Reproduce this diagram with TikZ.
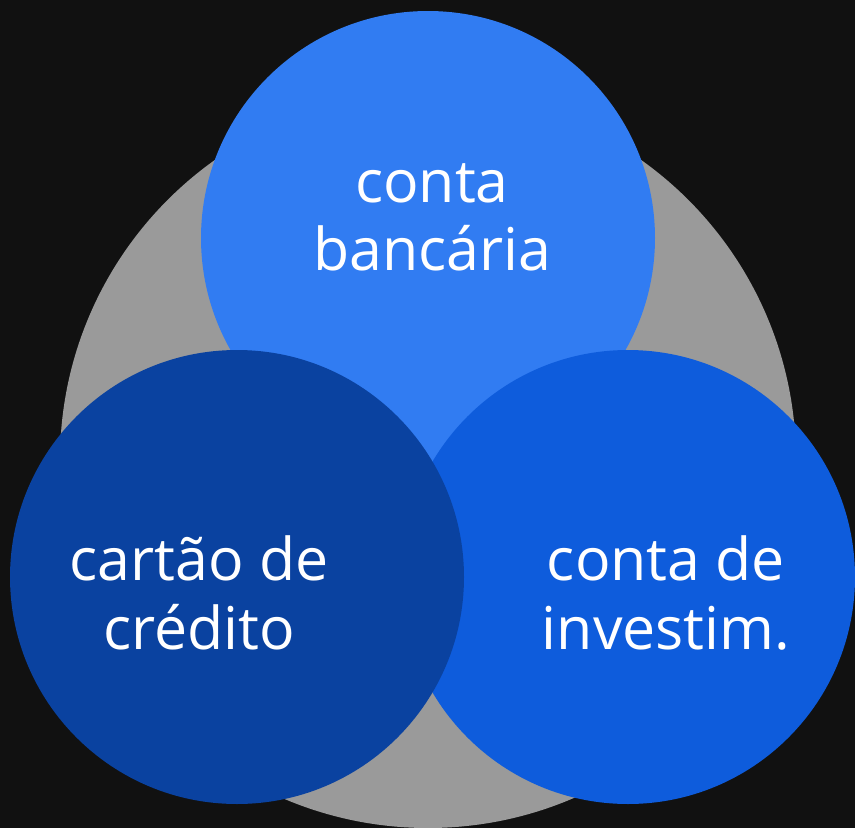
\documentclass[tikz,border=0pt]{standalone}
\usepackage{fontspec}
\setmainfont{Open Sans}
\definecolor{bgc}{RGB}{17,17,17}
\definecolor{grayc}{RGB}{154,154,154}
\definecolor{topc}{RGB}{49,124,242}
\definecolor{rightc}{RGB}{14,92,220}
\definecolor{leftc}{RGB}{10,66,160}
\tikzset{
  disc/.style={circle, minimum size=454pt, inner sep=0pt, draw=none},
  lbl/.style={text=white, anchor=base, inner sep=0pt, font=\fontsize{59}{70}\selectfont}
}
\begin{document}
\begin{tikzpicture}[x=1pt,y=-1pt]
\fill[bgc] (0,0) rectangle (855,828);
\useasboundingbox (0,0) rectangle (855,828);
\node[circle, minimum size=736pt, inner sep=0pt, fill=grayc] (big) at (428,460) {};
\node[disc, fill=topc] (top) at (428,238) {};
\node[disc, fill=rightc] (right) at (628,577) {};
\node[disc, fill=leftc] (left) at (237,577) {};
\node[lbl] (t1) at (432,202) {conta};
\node[lbl] (t2) at (432,270) {bancária};
\node[lbl] (l1) at (199,580) {cartão de};
\node[lbl] (l2) at (199,649) {crédito};
\node[lbl] (r1) at (666,580) {conta de};
\node[lbl] (r2) at (666,649) {investim.};
\end{tikzpicture}
\end{document}
